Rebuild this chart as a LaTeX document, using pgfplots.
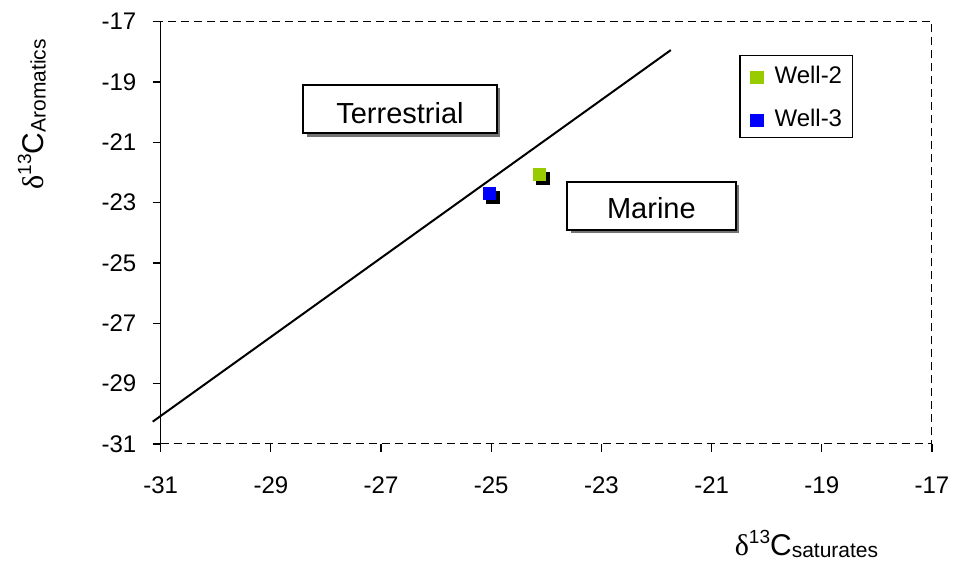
\documentclass[border=0pt]{standalone}
\usepackage{fontspec}
\setmainfont{Liberation Sans}
\newfontfamily\seriffont{Liberation Serif}
\usepackage{pgfplots}
\pgfplotsset{compat=1.18}
\usetikzlibrary{shadows}
\definecolor{wellgreen}{HTML}{99CC00}
\definecolor{wellblue}{HTML}{0000FF}
\newcommand{\dlabel}[1]{{\fontsize{15}{18}\selectfont{\seriffont δ}\raisebox{6.1pt}{\fontsize{9.5}{11}\selectfont 13}C\raisebox{-1.2pt}{\fontsize{10.5}{12}\selectfont #1}}}
\begin{document}
\begin{tikzpicture}
\useasboundingbox (-80.35pt,-59pt) rectangle (397.15pt,222pt);
\begin{axis}[
  scale only axis, width=385.65pt, height=211.15pt,
  xmin=-31, xmax=-17, ymin=-31, ymax=-17,
  xtick={-31,-29,...,-17}, ytick={-31,-29,...,-17},
  axis line style={draw=none},
  tick pos=left, tick align=outside, major tick length=4pt,
  tick style={black, line width=0.6pt},
  ticklabel style={font=\fontsize{12}{14}\selectfont, inner sep=0pt},
  /pgf/number format/assume math mode=true,
  xticklabel shift=12.4pt, yticklabel shift=8pt,
  clip=false,
  xlabel={\dlabel{saturates}}, ylabel={\dlabel{Aromatics}},
  x label style={at={(axis description cs:0.8373,-0.2635)}, anchor=base, inner sep=0pt},
  y label style={at={(axis description cs:-0.1522,0.781)}, anchor=base, inner sep=0pt},
  legend cell align=left,
  legend style={at={(axis description cs:0.7502,0.9219)}, anchor=north west,
    draw=black, line width=0.6pt, fill=white,
    font=\fontsize{12}{14}\selectfont,
    inner xsep=5.35pt, inner ysep=5.6pt,
    nodes={inner sep=0pt, text height=8.6pt, text depth=0pt},
    /tikz/column sep=5.65pt, /tikz/row sep=12.9pt},
  legend image code/.code={\draw[mark repeat=1,mark phase=1,#1] plot coordinates {(3.15pt,-1.1pt)};},
]
\draw[black, line width=0.5pt, dash pattern=on 4pt off 2.5pt]
  (rel axis cs:0,0) -- (rel axis cs:1,0) -- (rel axis cs:1,1) -- (rel axis cs:0,1);
\draw[black, line width=0.8pt] (rel axis cs:0,0) -- (rel axis cs:0,1);
\addplot[black, line width=1pt, forget plot] coordinates {(-31.145,-30.26) (-21.74,-17.94)};
\addplot[only marks, mark=square*, mark size=3.15pt, black, forget plot,
  mark options={xshift=2pt, yshift=-2pt}] coordinates {(-24.13,-22.06) (-25.04,-22.69)};
\addplot[only marks, mark=square*, mark size=3.15pt, color=wellgreen,
  mark options={line width=0.2pt}] coordinates {(-24.13,-22.06)};
\addlegendentry{Well-2}
\addplot[only marks, mark=square*, mark size=3.15pt, color=wellblue,
  mark options={line width=0.2pt}] coordinates {(-25.04,-22.69)};
\addlegendentry{Well-3}
\node[draw=black, line width=1pt, fill=white, minimum width=96.7pt, minimum height=24.3pt,
  inner sep=0pt, text height=14.8pt, text depth=0pt, font=\fontsize{14.5}{17}\selectfont,
  general shadow={fill=black!55, shadow xshift=1.65pt, shadow yshift=-1.65pt}]
  at (axis cs:-26.657,-19.895) {Terrestrial};
\node[draw=black, line width=1pt, fill=white, minimum width=84.2pt, minimum height=24.15pt,
  inner sep=0pt, text height=12.9pt, text depth=0pt, font=\fontsize{14.5}{17}\selectfont,
  general shadow={fill=black!55, shadow xshift=1.65pt, shadow yshift=-1.65pt}]
  at (axis cs:-22.093,-23.106) {Marine};
\end{axis}
\end{tikzpicture}
\end{document}
